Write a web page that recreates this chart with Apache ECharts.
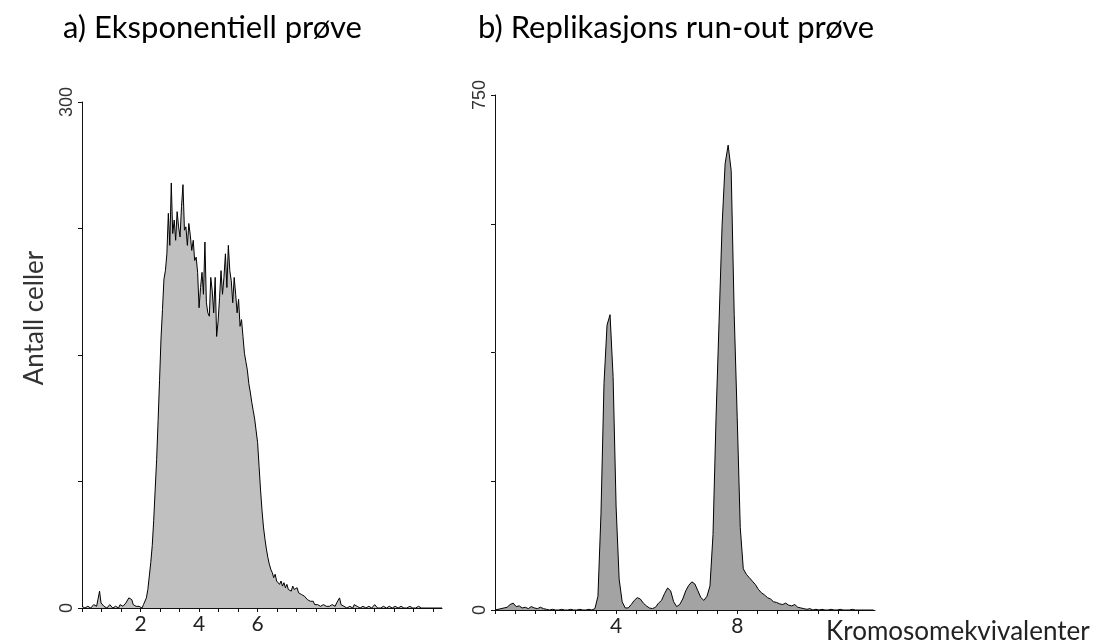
<!DOCTYPE html>
<html>
<head>
<meta charset="utf-8">
<script src="https://cdn.jsdelivr.net/npm/echarts@6/dist/echarts.min.js"></script>
<style>
  html, body { margin: 0; padding: 0; background: #fff; }
  #chart { width: 1097px; height: 644px; }
</style>
</head>
<body>
<div id="chart"></div>
<script>
// Histogram bin widths in chromosome equivalents
const expBinWidth = 0.05;
const runoutBinWidth = 0.1;

// a) exponential sample: cell counts per bin, starting at 0
const expCounts = [
  1, 0, 0, 1, 1, 0, 0, 1, 2, 1,
  1, 2, 10, 3, 2, 1, 1, 0, 1, 2,
  1, 0, 0, 1, 1, 0, 2, 1, 1, 0,
  3, 4, 6, 5, 5, 2, 2, 1, 0, 1,
  1, 0, 2, 3, 6, 11, 19, 27, 37, 52,
  70, 88, 111, 135, 160, 177, 195, 200, 210, 234,
  215, 252, 222, 230, 218, 235, 226, 220, 238, 251,
  224, 226, 215, 228, 221, 212, 218, 206, 208, 199,
  178, 190, 199, 186, 217, 181, 175, 173, 196, 188,
  175, 196, 161, 170, 184, 200, 186, 196, 210, 190,
  215, 200, 194, 181, 196, 186, 175, 183, 167, 171,
  161, 151, 146, 141, 133, 128, 122, 117, 112, 105,
  98, 84, 70, 58, 48, 41, 35, 30, 26, 23,
  21, 18, 20, 16, 17, 14, 16, 13, 15, 12,
  14, 11, 12, 10, 13, 11, 10, 12, 9, 10,
  8, 9, 7, 8, 5, 6, 4, 3, 4, 2,
  3, 2, 2, 1, 2, 2, 3, 1, 2, 1,
  1, 2, 2, 1, 3, 2, 6, 2, 2, 1,
  1, 0, 1, 1, 0, 0, 2, 1, 1, 0,
  0, 1, 1, 0, 0, 1, 1, 0, 0, 0,
  2, 1, 0, 0, 0, 0, 1, 0, 0, 0,
  1, 0, 0, 0, 1, 0, 0, 1, 1, 0,
  0, 0, 0, 0, 1, 0, 0, 0, 0, 0,
  1, 0, 0, 0, 0, 0, 0, 0, 0, 0,
  0, 0, 0, 0, 0, 0, 0
];

// b) replication run-out sample: cell counts per bin, starting at 0
const runoutCounts = [
  0, 1, 2, 3, 4, 8, 10, 5, 6, 3,
  4, 2, 5, 3, 2, 4, 2, 1, 0, 1,
  0, 0, 1, 0, 0, 1, 0, 0, 1, 0,
  0, 1, 0, 2, 20, 140, 330, 415, 430, 340,
  150, 45, 12, 3, 3, 8, 14, 18, 16, 10,
  6, 3, 2, 4, 10, 14, 24, 32, 28, 12,
  5, 8, 16, 28, 36, 41, 38, 28, 18, 14,
  20, 35, 110, 280, 420, 560, 650, 677, 640, 430,
  280, 120, 60, 52, 47, 42, 37, 30, 25, 22,
  18, 16, 12, 11, 9, 8, 10, 7, 6, 8,
  4, 3, 2, 1, 2, 0, 1, 0, 1, 0,
  0, 1, 0, 0, 1, 0, 0, 0, 1, 0,
  0, 0, 0, 0, 0, 0
];

// Axis ticks and labels
const xTicks = [0, 2/3, 4/3, 2, 8/3, 10/3, 4, 14/3, 16/3, 6, 20/3, 22/3, 8,
                26/3, 28/3, 10, 32/3, 34/3, 12];
const expXLabels = [2, 4, 6];
const runoutXLabels = [4, 8];
const expYTicks = [0, 75, 150, 225, 300];
const expYLabels = [0, 300];
const runoutYTicks = [0, 187.5, 375, 562.5, 750];
const runoutYLabels = [0, 750];

const AXIS_COLOR = '#111';

function xAxis(gridIndex, max, labels) {
  return {
    type: 'value', gridIndex, min: 0, max,
    axisLine: { show: true, onZero: false, lineStyle: { color: AXIS_COLOR, width: 1 } },
    axisTick: { show: true, length: 4, customValues: xTicks, lineStyle: { color: AXIS_COLOR } },
    axisLabel: {
      customValues: labels, margin: 6,
      fontFamily: 'Lato', fontSize: 21, color: '#222',
      formatter: v => String(Math.round(v))
    },
    splitLine: { show: false }
  };
}

function yAxis(gridIndex, max, ticks, labels) {
  return {
    type: 'value', gridIndex, min: 0, max,
    axisLine: { show: true, lineStyle: { color: AXIS_COLOR, width: 1 } },
    axisTick: { show: true, length: 4, customValues: ticks, lineStyle: { color: AXIS_COLOR } },
    axisLabel: {
      customValues: labels, rotate: 90, margin: 6,
      fontFamily: 'Liberation Sans', fontSize: 18, color: '#333'
    },
    splitLine: { show: false }
  };
}

function histSeries(idx, counts, binWidth, fill) {
  return {
    type: 'line', xAxisIndex: idx, yAxisIndex: idx,
    data: counts.map((c, i) => [i * binWidth, c]),
    symbol: 'none', silent: true,
    lineStyle: { color: '#000', width: 1 },
    areaStyle: { color: fill, opacity: 1 }
  };
}

const chart = echarts.init(document.getElementById('chart'), null, { renderer: 'canvas' });
chart.setOption({
  animation: false,
  backgroundColor: '#fff',
  grid: [
    { left: 82, top: 102, width: 360, height: 506 },
    { left: 495, top: 95, width: 380, height: 515 }
  ],
  xAxis: [xAxis(0, 12.3, expXLabels), xAxis(1, 12.55, runoutXLabels)],
  yAxis: [yAxis(0, 300, expYTicks, expYLabels), yAxis(1, 750, runoutYTicks, runoutYLabels)],
  series: [
    histSeries(0, expCounts, expBinWidth, '#c0c0c0'),
    histSeries(1, runoutCounts, runoutBinWidth, '#a3a3a3')
  ],
  graphic: [
    { type: 'text', x: 63, y: 28,
      style: { text: 'a) Eksponentiell prøve', font: '31px Lato', fill: '#000', verticalAlign: 'middle' } },
    { type: 'text', x: 478, y: 28,
      style: { text: 'b) Replikasjons run-out prøve', font: '31px Lato', fill: '#000', verticalAlign: 'middle' } },
    { type: 'text', x: 35, y: 318, rotation: Math.PI / 2,
      style: { text: 'Antall celler', font: '26px Lato', fill: '#333', align: 'center', verticalAlign: 'middle' } },
    { type: 'text', x: 826, y: 632,
      style: { text: 'Kromosomekvivalenter', font: '26px Lato', fill: '#222', verticalAlign: 'middle' } }
  ]
});
</script>
</body>
</html>
